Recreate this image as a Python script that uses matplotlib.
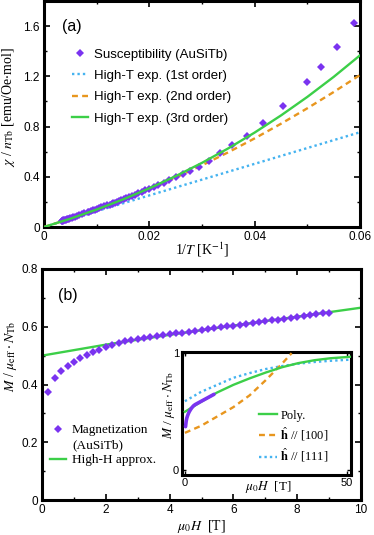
import matplotlib
matplotlib.use('Agg')
import matplotlib.pyplot as plt
from matplotlib.lines import Line2D
from matplotlib.ticker import MultipleLocator, FixedLocator

plt.rcParams['mathtext.fontset'] = 'stix'
plt.rcParams['font.family'] = ['Liberation Sans', 'DejaVu Sans']

# ---------------- Panel (a): susceptibility vs 1/T ----------------
T_data = [17, 18, 19, 20, 22, 24, 26, 28, 30, 32, 34, 36, 38, 40, 42, 44, 46, 48, 50,
          52, 54, 56, 58, 60, 62, 64, 66, 68, 70, 72, 74, 76, 78, 80,
          84, 88, 92, 96, 100, 104, 108, 112, 116, 120,
          130, 140, 150, 160, 170, 180, 190, 200, 210, 220, 230, 240, 250, 260, 270, 280, 290, 300]
chi_data = [1.628, 1.430, 1.276, 1.152, 0.963, 0.828, 0.725, 0.654, 0.588, 0.527,
            0.480, 0.450, 0.422, 0.396, 0.374, 0.353, 0.335, 0.318, 0.302,
            0.291, 0.279, 0.268, 0.257, 0.247, 0.238, 0.230, 0.222, 0.215, 0.208,
            0.201, 0.195, 0.190, 0.184, 0.179,
            0.173, 0.164, 0.157, 0.150, 0.143, 0.137, 0.132, 0.127, 0.122, 0.118,
            0.109, 0.101, 0.094, 0.088, 0.083, 0.078, 0.074, 0.070, 0.067, 0.064,
            0.061, 0.059, 0.056, 0.054, 0.052, 0.051, 0.049, 0.047]

invT_curve = [0.0, 0.005, 0.01, 0.015, 0.02, 0.025, 0.03, 0.035, 0.04, 0.045, 0.05, 0.055, 0.06]
chi_1st = [0.0, 0.0629, 0.1258, 0.1887, 0.2516, 0.3145, 0.3774, 0.4403, 0.5032, 0.5661, 0.6290, 0.6919, 0.7548]
chi_2nd = [0.0, 0.0661, 0.1385, 0.2172, 0.3023, 0.3937, 0.4914, 0.5955, 0.7059, 0.8226, 0.9457, 1.0751, 1.2109]
chi_3rd = [0.0, 0.0662, 0.1392, 0.2197, 0.3081, 0.4050, 0.5110, 0.6266, 0.7523, 0.8887, 1.0363, 1.1957, 1.3674]

# ---------------- Panel (b): magnetization vs field ----------------
H_data = [0.2, 0.4, 0.6, 0.8, 1.0, 1.2, 1.4, 1.6, 1.8, 2.0, 2.2, 2.4, 2.6, 2.8, 3.0,
          3.2, 3.4, 3.6, 3.8, 4.0, 4.2, 4.4, 4.6, 4.8, 5.0, 5.2, 5.4, 5.6, 5.8, 6.0,
          6.2, 6.4, 6.6, 6.8, 7.0, 7.2, 7.4, 7.6, 7.8, 8.0, 8.2, 8.4, 8.6, 8.8, 9.0]
M_data = [0.373, 0.421, 0.447, 0.464, 0.479, 0.492, 0.503, 0.512, 0.521, 0.529, 0.536,
          0.543, 0.549, 0.554, 0.558, 0.562, 0.565, 0.568, 0.571, 0.574, 0.577, 0.580,
          0.583, 0.586, 0.589, 0.592, 0.595, 0.598, 0.601, 0.604, 0.607, 0.610, 0.613,
          0.616, 0.619, 0.622, 0.625, 0.628, 0.631, 0.634, 0.637, 0.640, 0.643, 0.646, 0.649]

H_fit = [0, 2, 4, 6, 8, 10]
M_fit = [0.500, 0.538, 0.572, 0.604, 0.635, 0.666]

# inset curves
H_poly = [0, 5, 10, 15, 20, 25, 30, 35, 40, 45, 50, 51.5]
M_poly = [0.500, 0.585, 0.665, 0.730, 0.785, 0.835, 0.880, 0.915, 0.940, 0.957, 0.967, 0.970]
H_100 = [0, 5, 10, 15, 20, 25, 30, 33]
M_100 = [0.320, 0.380, 0.460, 0.540, 0.640, 0.770, 0.910, 1.000]
H_111 = [0, 5, 10, 15, 20, 25, 30, 35, 40, 45, 50, 51.5]
M_111 = [0.590, 0.670, 0.730, 0.790, 0.830, 0.865, 0.890, 0.910, 0.925, 0.935, 0.943, 0.945]

PURPLE = '#7a33f0'
BLUE = '#45b3f0'
ORANGE = '#e8961e'
GREEN = '#3ccf48'
SERIF = ['Liberation Serif', 'DejaVu Serif']

fig = plt.figure(figsize=(3.74, 5.35), dpi=100)

def style(ax, lw=2.2):
    for s in ax.spines.values():
        s.set_linewidth(lw)
    ax.tick_params(which='both', direction='in', top=True, right=True, labelsize=8.5)
    ax.tick_params(which='major', length=4, width=1.2, pad=3)
    ax.tick_params(which='minor', length=2.5, width=1.0)

# ---- (a) ----
axa = fig.add_axes([0.1176, 0.5757, 0.845, 0.4224])
style(axa)
invT_data = [1.0 / t for t in T_data]
axa.plot(invT_curve, chi_1st, linestyle=(0, (1, 1.3)), color=BLUE, lw=1.7,
         label='High-T exp. (1st order)', zorder=2)
axa.plot(invT_curve, chi_2nd, linestyle=(0, (2.5, 1.8)), color=ORANGE, lw=1.7,
         label='High-T exp. (2nd order)', zorder=3)
axa.plot(invT_curve, chi_3rd, linestyle='-', color=GREEN, lw=1.7,
         label='High-T exp. (3rd order)', zorder=4)
axa.plot(invT_data, chi_data, linestyle='none', marker='D', ms=3.6, mew=0,
         color=PURPLE, label='Susceptibility (AuSiTb)', zorder=3.5)
axa.set_xlim(0, 0.06)
axa.set_ylim(0, 1.8)
axa.xaxis.set_major_locator(FixedLocator([0, 0.02, 0.04, 0.06]))
axa.xaxis.set_minor_locator(MultipleLocator(0.01))
axa.set_xticklabels(['0', '0.02', '0.04', '0.06'])
axa.yaxis.set_major_locator(FixedLocator([0, 0.4, 0.8, 1.2, 1.6]))
axa.yaxis.set_minor_locator(MultipleLocator(0.2))
axa.set_yticklabels(['0', '0.4', '0.8', '1.2', '1.6'])
axa.set_xlabel(r'1/$T$ [K$^{\mathrm{-1}}$]', family=SERIF, fontsize=10)
axa.set_ylabel(r'$\chi$ / $n_{\mathrm{Tb}}$ [emu/Oe$\cdot$mol]', family=SERIF, fontsize=10)
axa.xaxis.set_label_coords(0.5, -0.058)
axa.yaxis.set_label_coords(-0.086, 0.53)
axa.text(0.0886, 0.889, '(a)', transform=axa.transAxes, fontsize=11.5,
         ha='center', va='center')
h, l = axa.get_legend_handles_labels()
order = [3, 0, 1, 2]
axa.legend([h[i] for i in order], [l[i] for i in order], loc='upper left',
           bbox_to_anchor=(0.0886, 0.79), frameon=False, fontsize=9.5,
           borderpad=0, borderaxespad=0, handlelength=1.22, handletextpad=0.45,
           labelspacing=0.69)

# ---- (b) ----
axb = fig.add_axes([0.1123, 0.0654, 0.853, 0.4318])
style(axb)
axb.plot(H_fit, M_fit, color=GREEN, lw=1.7, zorder=2)
axb.plot(H_data, M_data, linestyle='none', marker='D', ms=3.6, mew=0, color=PURPLE, zorder=3)
axb.set_xlim(0, 10)
axb.set_ylim(0, 0.8)
axb.xaxis.set_major_locator(FixedLocator([0, 2, 4, 6, 8, 10]))
axb.xaxis.set_minor_locator(MultipleLocator(1))
axb.set_xticklabels(['0', '2', '4', '6', '8', '10'])
axb.yaxis.set_major_locator(FixedLocator([0, 0.2, 0.4, 0.6, 0.8]))
axb.yaxis.set_minor_locator(MultipleLocator(0.1))
axb.set_yticklabels(['0', '0.2', '0.4', '0.6', '0.8'])
axb.set_xlabel(r'$\mu_0 H$  [T]', family=SERIF, fontsize=10)
axb.set_ylabel(r'$M$ / $\mu_{\mathrm{eff}}\cdot N_{\mathrm{Tb}}$', family=SERIF, fontsize=10)
axb.xaxis.set_label_coords(0.5, -0.078)
axb.yaxis.set_label_coords(-0.072, 0.62)
axb.text(0.0815, 0.884, '(b)', transform=axb.transAxes, fontsize=11.5,
         ha='center', va='center')
hb = [Line2D([], [], linestyle='none', marker='D', ms=3.6, mew=0, color=PURPLE),
      Line2D([], [], linestyle='none'),
      Line2D([], [], color=GREEN, lw=1.7)]
lb = ['Magnetization', '(AuSiTb)', 'High-H approx.']
axb.legend(hb, lb, loc='upper left', bbox_to_anchor=(0.025, 0.328), frameon=False,
           prop={'family': SERIF, 'size': 9.5}, borderpad=0, borderaxespad=0,
           handlelength=1.21, handletextpad=0.45, labelspacing=0.2)

# ---- inset ----
axi = fig.add_axes([0.4866, 0.1121, 0.4532, 0.2299])
for s in axi.spines.values():
    s.set_linewidth(2.2)
axi.tick_params(which='both', direction='in', top=True, right=True, labelsize=8, pad=2)
axi.tick_params(which='major', length=3, width=1.0)
axi.plot(H_111, M_111, linestyle=(0, (1, 1.3)), color=BLUE, lw=1.7, zorder=2,
         label=r'$\hat{\mathbf{h}}$ // [111]')
axi.plot(H_100, M_100, linestyle=(0, (2.5, 1.8)), color=ORANGE, lw=1.7, zorder=3,
         label=r'$\hat{\mathbf{h}}$ // [100]')
axi.plot(H_poly, M_poly, color=GREEN, lw=1.7, zorder=4, label='Poly.')
axi.plot(H_data, M_data, color=PURPLE, lw=2.6, zorder=5, solid_capstyle='round')
axi.set_xlim(-0.9, 51.5)
axi.set_ylim(-0.04, 1.01)
axi.xaxis.set_major_locator(FixedLocator([0, 50]))
axi.set_xticklabels(['0', '50'])
axi.yaxis.set_major_locator(FixedLocator([0, 1]))
axi.set_yticklabels(['0', '1'])
axi.set_xlabel(r'$\mu_0 H$  [T]', family=SERIF, fontsize=9.5)
axi.set_ylabel(r'$M$ / $\mu_{\mathrm{eff}}\cdot N_{\mathrm{Tb}}$', family=SERIF, fontsize=9.5)
axi.xaxis.set_label_coords(0.507, -0.03)
axi.yaxis.set_label_coords(-0.03, 0.57)
hi, li = axi.get_legend_handles_labels()
oi = [2, 1, 0]
axi.legend([hi[i] for i in oi], [li[i] for i in oi], loc='upper left',
           bbox_to_anchor=(0.456, 0.53), frameon=False,
           prop={'family': SERIF, 'size': 9}, borderpad=0, borderaxespad=0,
           handlelength=1.44, handletextpad=0.25, labelspacing=0.3)

fig.savefig('out.png', dpi=100)
